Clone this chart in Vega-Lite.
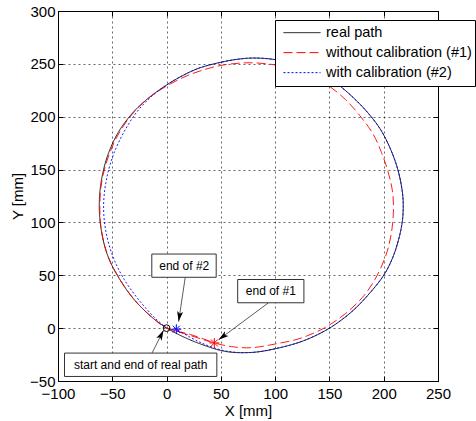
{
"$schema": "https://vega.github.io/schema/vega-lite/v6.json",
"width": 380, "height": 370,
"autosize": "none",
"padding": {"left": 58, "top": 11, "right": 38, "bottom": 40},
"background": "white",
"config": {
  "font": "Liberation Sans",
  "view": {"stroke": "#000", "strokeWidth": 1},
  "axis": {"labelFont": "Liberation Sans", "labelFontSize": 15, "labelColor": "#000", "titleFont": "Liberation Sans", "titleFontSize": 15, "titleFontWeight": "normal", "titleColor": "#000", "domainColor": "#000", "tickColor": "#000", "gridColor": "#000", "gridDash": [2, 3], "gridOpacity": 0.75, "gridWidth": 0.8, "labelFlush": false}
},
"datasets": {
"paths": [
{"s":"real path","i":0,"x":0,"y":0},{"s":"real path","i":1,"x":-12,"y":9},{"s":"real path","i":2,"x":-29,"y":26},{"s":"real path","i":3,"x":-43,"y":46},{"s":"real path","i":4,"x":-54,"y":68},{"s":"real path","i":5,"x":-60,"y":92},{"s":"real path","i":6,"x":-62,"y":116},{"s":"real path","i":7,"x":-60,"y":140},{"s":"real path","i":8,"x":-54,"y":164},{"s":"real path","i":9,"x":-44,"y":186},{"s":"real path","i":10,"x":-30,"y":205},{"s":"real path","i":11,"x":-15,"y":219},{"s":"real path","i":12,"x":0,"y":230},{"s":"real path","i":13,"x":15,"y":239},{"s":"real path","i":14,"x":30,"y":246},{"s":"real path","i":15,"x":50,"y":251.5},{"s":"real path","i":16,"x":65,"y":254.3},{"s":"real path","i":17,"x":80,"y":255.5},{"s":"real path","i":18,"x":100,"y":254},{"s":"real path","i":19,"x":120,"y":249},{"s":"real path","i":20,"x":140,"y":241},{"s":"real path","i":21,"x":157,"y":231},{"s":"real path","i":22,"x":172,"y":218},{"s":"real path","i":23,"x":186,"y":203},{"s":"real path","i":24,"x":197,"y":188},{"s":"real path","i":25,"x":206,"y":170},{"s":"real path","i":26,"x":213,"y":150},{"s":"real path","i":27,"x":217,"y":130},{"s":"real path","i":28,"x":218,"y":116},{"s":"real path","i":29,"x":217,"y":100},{"s":"real path","i":30,"x":213.5,"y":83},{"s":"real path","i":31,"x":208,"y":66},{"s":"real path","i":32,"x":200,"y":50},{"s":"real path","i":33,"x":187,"y":33},{"s":"real path","i":34,"x":171,"y":16},{"s":"real path","i":35,"x":150,"y":0},{"s":"real path","i":36,"x":126,"y":-12},{"s":"real path","i":37,"x":100,"y":-19.5},{"s":"real path","i":38,"x":78,"y":-23},{"s":"real path","i":39,"x":54,"y":-22},{"s":"real path","i":40,"x":30,"y":-14.5},{"s":"real path","i":41,"x":15,"y":-8},{"s":"real path","i":42,"x":0,"y":0},
{"s":"without calibration (#1)","i":0,"x":0,"y":0},{"s":"without calibration (#1)","i":1,"x":22,"y":-7},{"s":"without calibration (#1)","i":2,"x":44,"y":-14},{"s":"without calibration (#1)","i":3,"x":60,"y":-17.5},{"s":"without calibration (#1)","i":4,"x":78,"y":-18.5},{"s":"without calibration (#1)","i":5,"x":100,"y":-15},{"s":"without calibration (#1)","i":6,"x":122,"y":-10},{"s":"without calibration (#1)","i":7,"x":145,"y":0},{"s":"without calibration (#1)","i":8,"x":165,"y":14},{"s":"without calibration (#1)","i":9,"x":182,"y":31},{"s":"without calibration (#1)","i":10,"x":194,"y":50},{"s":"without calibration (#1)","i":11,"x":203,"y":72},{"s":"without calibration (#1)","i":12,"x":207.5,"y":93},{"s":"without calibration (#1)","i":13,"x":209,"y":113},{"s":"without calibration (#1)","i":14,"x":208,"y":130},{"s":"without calibration (#1)","i":15,"x":204,"y":148},{"s":"without calibration (#1)","i":16,"x":198,"y":166},{"s":"without calibration (#1)","i":17,"x":190,"y":184},{"s":"without calibration (#1)","i":18,"x":178,"y":201},{"s":"without calibration (#1)","i":19,"x":165,"y":216},{"s":"without calibration (#1)","i":20,"x":151,"y":228},{"s":"without calibration (#1)","i":21,"x":138,"y":236},{"s":"without calibration (#1)","i":22,"x":120,"y":244},{"s":"without calibration (#1)","i":23,"x":100,"y":249},{"s":"without calibration (#1)","i":24,"x":75,"y":251},{"s":"without calibration (#1)","i":25,"x":50,"y":248.5},{"s":"without calibration (#1)","i":26,"x":30,"y":243},{"s":"without calibration (#1)","i":27,"x":15,"y":237},{"s":"without calibration (#1)","i":28,"x":0,"y":229},{"s":"without calibration (#1)","i":29,"x":-15,"y":219},{"s":"without calibration (#1)","i":30,"x":-29.5,"y":205},{"s":"without calibration (#1)","i":31,"x":-43,"y":186},{"s":"without calibration (#1)","i":32,"x":-53,"y":164},{"s":"without calibration (#1)","i":33,"x":-59.5,"y":140},{"s":"without calibration (#1)","i":34,"x":-61.5,"y":116},{"s":"without calibration (#1)","i":35,"x":-60,"y":92},{"s":"without calibration (#1)","i":36,"x":-54,"y":68},{"s":"without calibration (#1)","i":37,"x":-43,"y":46},{"s":"without calibration (#1)","i":38,"x":-29,"y":26},{"s":"without calibration (#1)","i":39,"x":-12,"y":9},{"s":"without calibration (#1)","i":40,"x":0,"y":0},{"s":"without calibration (#1)","i":41,"x":22,"y":-6},{"s":"without calibration (#1)","i":42,"x":44,"y":-14},
{"s":"with calibration (#2)","i":0,"x":0,"y":0},{"s":"with calibration (#2)","i":1,"x":-10,"y":9},{"s":"with calibration (#2)","i":2,"x":-25,"y":26},{"s":"with calibration (#2)","i":3,"x":-39,"y":46},{"s":"with calibration (#2)","i":4,"x":-49.5,"y":68},{"s":"with calibration (#2)","i":5,"x":-56,"y":92},{"s":"with calibration (#2)","i":6,"x":-58,"y":116},{"s":"with calibration (#2)","i":7,"x":-55.5,"y":140},{"s":"with calibration (#2)","i":8,"x":-49,"y":164},{"s":"with calibration (#2)","i":9,"x":-39,"y":186},{"s":"with calibration (#2)","i":10,"x":-27,"y":205},{"s":"with calibration (#2)","i":11,"x":-14,"y":219},{"s":"with calibration (#2)","i":12,"x":0,"y":230},{"s":"with calibration (#2)","i":13,"x":15,"y":239},{"s":"with calibration (#2)","i":14,"x":30,"y":246},{"s":"with calibration (#2)","i":15,"x":50,"y":251.5},{"s":"with calibration (#2)","i":16,"x":65,"y":254.3},{"s":"with calibration (#2)","i":17,"x":80,"y":255.5},{"s":"with calibration (#2)","i":18,"x":100,"y":254},{"s":"with calibration (#2)","i":19,"x":120,"y":249},{"s":"with calibration (#2)","i":20,"x":140,"y":241},{"s":"with calibration (#2)","i":21,"x":157,"y":231},{"s":"with calibration (#2)","i":22,"x":172,"y":218},{"s":"with calibration (#2)","i":23,"x":186,"y":203},{"s":"with calibration (#2)","i":24,"x":197,"y":188},{"s":"with calibration (#2)","i":25,"x":206,"y":170},{"s":"with calibration (#2)","i":26,"x":213,"y":150},{"s":"with calibration (#2)","i":27,"x":217,"y":130},{"s":"with calibration (#2)","i":28,"x":218,"y":116},{"s":"with calibration (#2)","i":29,"x":217,"y":100},{"s":"with calibration (#2)","i":30,"x":213.5,"y":83},{"s":"with calibration (#2)","i":31,"x":208,"y":66},{"s":"with calibration (#2)","i":32,"x":200,"y":50},{"s":"with calibration (#2)","i":33,"x":187,"y":33},{"s":"with calibration (#2)","i":34,"x":171,"y":16},{"s":"with calibration (#2)","i":35,"x":150,"y":0},{"s":"with calibration (#2)","i":36,"x":126,"y":-12},{"s":"with calibration (#2)","i":37,"x":100,"y":-19.5},{"s":"with calibration (#2)","i":38,"x":78,"y":-23},{"s":"with calibration (#2)","i":39,"x":54,"y":-21.5},{"s":"with calibration (#2)","i":40,"x":30,"y":-13},{"s":"with calibration (#2)","i":41,"x":9,"y":-1}
],
"markers": [
{"s":"real path","x":0,"y":0},
{"s":"without calibration (#1)","x":44,"y":-14},
{"s":"with calibration (#2)","x":9,"y":-1}
],
"notes": [
{"label":"end of #2","x1":-13.6,"x2":45.7,"y1":48.1,"y2":70.1,"tx":16.3,"ty":59.1,"ax":17.2,"ay":48.1,"hx":11.1,"hy":6.2},
{"label":"end of #1","x1":65.5,"x2":126.5,"y1":24,"y2":46,"tx":96,"ty":35,"ax":93.9,"ay":24,"hx":47.9,"hy":-11},
{"label":"start and end of real path","x1":-94,"x2":46.3,"y1":-45.7,"y2":-23.6,"tx":-23.9,"ty":-34.6,"ax":-13.4,"ay":-23.6,"hx":-2.8,"hy":-2}
]
},
"layer": [
{
  "data": {"name": "paths"},
  "mark": {"type": "line", "strokeWidth": 0.9, "interpolate": "catmull-rom"},
  "encoding": {
    "x": {"field": "x", "type": "quantitative", "scale": {"domain": [-100, 250], "nice": false, "zero": false},
          "axis": {"orient": "bottom", "values": [-100, -50, 0, 50, 100, 150, 200, 250], "title": "X [mm]", "grid": true, "tickSize": -5, "labelPadding": 10, "titlePadding": 2}},
    "y": {"field": "y", "type": "quantitative", "scale": {"domain": [-50, 300], "nice": false, "zero": false},
          "axis": {"orient": "left", "values": [-50, 0, 50, 100, 150, 200, 250, 300], "title": "Y [mm]", "grid": true, "tickSize": -5, "labelPadding": 8, "titlePadding": 4}},
    "order": {"field": "i", "type": "quantitative"},
    "color": {"field": "s", "type": "nominal",
      "scale": {"domain": ["real path", "without calibration (#1)", "with calibration (#2)"], "range": ["#000000", "#ff0000", "#0000ff"]},
      "legend": {"orient": "none", "legendX": 217, "legendY": 9, "title": null, "fillColor": "#ffffff", "strokeColor": "#000000", "padding": 3, "symbolType": "stroke", "symbolSize": 1369, "symbolStrokeWidth": 1, "symbolOffset": 5, "clipHeight": 19.3, "rowPadding": 0, "labelFontSize": 14.5, "labelFont": "Liberation Sans", "labelColor": "#000", "labelOffset": 5, "labelLimit": 300}},
    "strokeDash": {"field": "s", "type": "nominal",
      "scale": {"domain": ["real path", "without calibration (#1)", "with calibration (#2)"], "range": [[1, 0], [9, 4], [2, 2]]},
      "legend": {"orient": "none", "legendX": 217, "legendY": 9, "title": null, "fillColor": "#ffffff", "strokeColor": "#000000", "padding": 3, "symbolType": "stroke", "symbolSize": 1369, "symbolStrokeWidth": 1, "symbolOffset": 5, "clipHeight": 19.3, "rowPadding": 0, "labelFontSize": 14.5, "labelFont": "Liberation Sans", "labelColor": "#000", "labelOffset": 5, "labelLimit": 300}}
  }
},
{
  "data": {"name": "markers"},
  "transform": [{"filter": "datum.s === 'real path'"}],
  "mark": {"type": "point", "shape": "circle", "size": 45, "filled": false, "strokeWidth": 1, "color": "#000000", "opacity": 1},
  "encoding": {
    "x": {"field": "x", "type": "quantitative", "scale": {"domain": [-100, 250], "nice": false, "zero": false}, "axis": null},
    "y": {"field": "y", "type": "quantitative", "scale": {"domain": [-50, 300], "nice": false, "zero": false}, "axis": null}
  }
},
{
  "data": {"name": "markers"},
  "transform": [{"filter": "datum.s !== 'real path'"}],
  "mark": {"type": "point", "shape": "M-1,0L1,0M0,-1L0,1M-0.7,-0.7L0.7,0.7M-0.7,0.7L0.7,-0.7", "size": 100, "filled": false, "strokeWidth": 1, "opacity": 1},
  "encoding": {
    "x": {"field": "x", "type": "quantitative", "scale": {"domain": [-100, 250], "nice": false, "zero": false}, "axis": null},
    "y": {"field": "y", "type": "quantitative", "scale": {"domain": [-50, 300], "nice": false, "zero": false}, "axis": null},
    "stroke": {"field": "s", "type": "nominal", "scale": {"domain": ["without calibration (#1)", "with calibration (#2)"], "range": ["#ff0000", "#0000ff"]}, "legend": null}
  }
},
{
  "data": {"name": "notes"},
  "mark": {"type": "rule", "color": "#333333", "strokeWidth": 0.8},
  "encoding": {
    "x": {"field": "ax", "type": "quantitative", "scale": {"domain": [-100, 250], "nice": false, "zero": false}, "axis": null},
    "y": {"field": "ay", "type": "quantitative", "scale": {"domain": [-50, 300], "nice": false, "zero": false}, "axis": null},
    "x2": {"field": "hx"},
    "y2": {"field": "hy"}
  }
},
{
  "data": {"name": "notes"},
  "transform": [{"filter": "datum.label === 'end of #2'"}],
  "mark": {"type": "point", "shape": "M0,0L0.5,1.7L0,1.3L-0.5,1.7Z", "size": 144, "filled": true, "color": "#000000", "opacity": 1, "angle": 188.5},
  "encoding": {
    "x": {"field": "hx", "type": "quantitative", "scale": {"domain": [-100, 250], "nice": false, "zero": false}, "axis": null},
    "y": {"field": "hy", "type": "quantitative", "scale": {"domain": [-50, 300], "nice": false, "zero": false}, "axis": null}
  }
},
{
  "data": {"name": "notes"},
  "transform": [{"filter": "datum.label === 'end of #1'"}],
  "mark": {"type": "point", "shape": "M0,0L0.5,1.7L0,1.3L-0.5,1.7Z", "size": 144, "filled": true, "color": "#000000", "opacity": 1, "angle": 233.3},
  "encoding": {
    "x": {"field": "hx", "type": "quantitative", "scale": {"domain": [-100, 250], "nice": false, "zero": false}, "axis": null},
    "y": {"field": "hy", "type": "quantitative", "scale": {"domain": [-50, 300], "nice": false, "zero": false}, "axis": null}
  }
},
{
  "data": {"name": "notes"},
  "transform": [{"filter": "datum.label === 'start and end of real path'"}],
  "mark": {"type": "point", "shape": "M0,0L0.5,1.7L0,1.3L-0.5,1.7Z", "size": 144, "filled": true, "color": "#000000", "opacity": 1, "angle": 26.7},
  "encoding": {
    "x": {"field": "hx", "type": "quantitative", "scale": {"domain": [-100, 250], "nice": false, "zero": false}, "axis": null},
    "y": {"field": "hy", "type": "quantitative", "scale": {"domain": [-50, 300], "nice": false, "zero": false}, "axis": null}
  }
},
{
  "data": {"name": "notes"},
  "mark": {"type": "rect", "fill": "#ffffff", "stroke": "#333333", "strokeWidth": 1},
  "encoding": {
    "x": {"field": "x1", "type": "quantitative", "scale": {"domain": [-100, 250], "nice": false, "zero": false},
          "axis": {"orient": "top", "values": [-100, -50, 0, 50, 100, 150, 200, 250], "labels": false, "title": null, "grid": false, "tickSize": -5}},
    "x2": {"field": "x2"},
    "y": {"field": "y1", "type": "quantitative", "scale": {"domain": [-50, 300], "nice": false, "zero": false},
          "axis": {"orient": "right", "values": [-50, 0, 50, 100, 150, 200, 250, 300], "labels": false, "title": null, "grid": false, "tickSize": -5}},
    "y2": {"field": "y2"}
  }
},
{
  "data": {"name": "notes"},
  "mark": {"type": "text", "font": "Liberation Sans", "fontSize": 12, "color": "#000000", "align": "center", "baseline": "middle"},
  "encoding": {
    "x": {"field": "tx", "type": "quantitative", "scale": {"domain": [-100, 250], "nice": false, "zero": false}, "axis": null},
    "y": {"field": "ty", "type": "quantitative", "scale": {"domain": [-50, 300], "nice": false, "zero": false}, "axis": null},
    "text": {"field": "label"}
  }
}
],
"resolve": {"axis": {"x": "independent", "y": "independent"}}
}
